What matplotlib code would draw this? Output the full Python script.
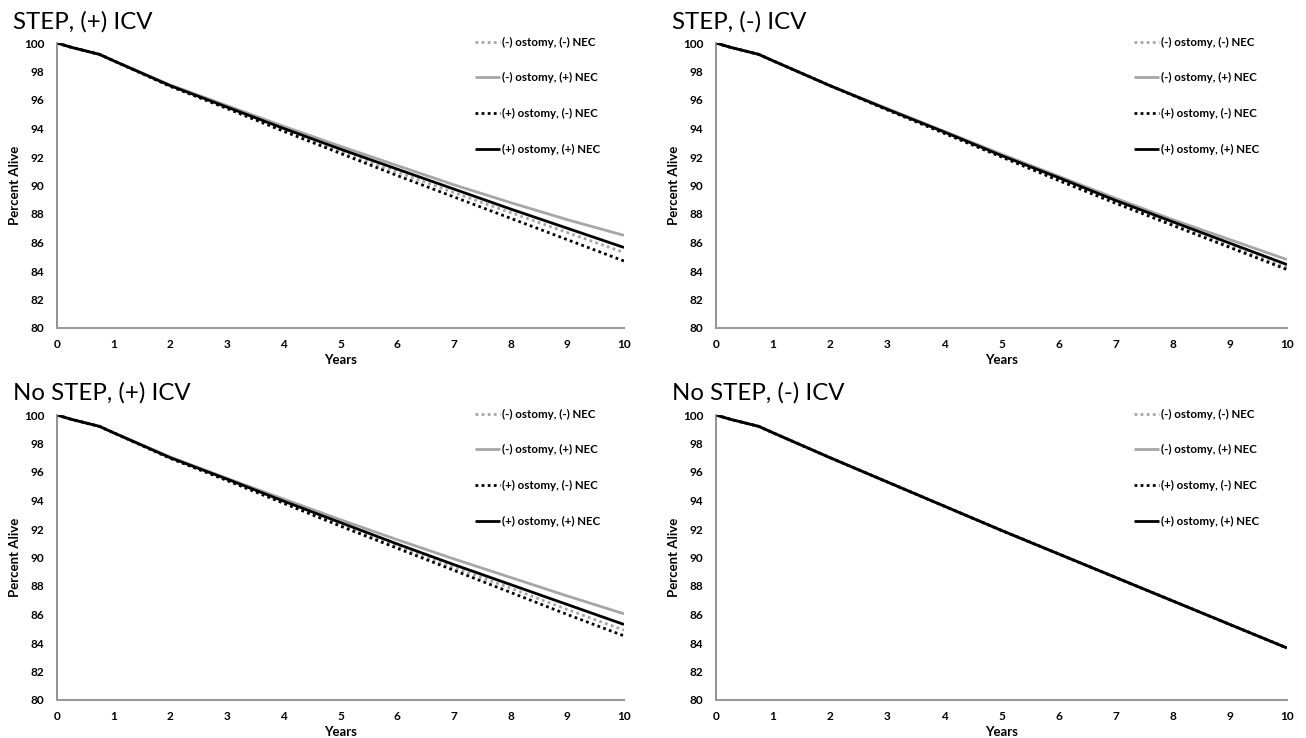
import matplotlib
matplotlib.use("Agg")
import matplotlib.pyplot as plt

plt.rcParams['font.family'] = ['Lato', 'DejaVu Sans']

years = [0, 0.25, 0.5, 0.75, 1, 2, 3, 4, 5, 6, 7, 8, 9, 10]
x_ticks = list(range(0, 11))
y_ticks = list(range(80, 101, 2))

series_labels = ["(-) ostomy, (-) NEC", "(-) ostomy, (+) NEC",
                 "(+) ostomy, (-) NEC", "(+) ostomy, (+) NEC"]

panel_titles = ["STEP, (+) ICV", "STEP, (-) ICV",
                "No STEP, (+) ICV", "No STEP, (-) ICV"]

# STEP, (+) ICV
step_pos_neg_neg = [100, 99.7, 99.45, 99.2, 98.75, 97.0, 95.45, 93.9, 92.4, 90.95, 89.5, 88.1, 86.7, 85.3]
step_pos_neg_pos = [100, 99.7, 99.45, 99.2, 98.75, 97.05, 95.6, 94.15, 92.75, 91.4, 90.05, 88.8, 87.6, 86.5]
step_pos_pos_neg = [100, 99.7, 99.45, 99.2, 98.75, 96.95, 95.4, 93.8, 92.25, 90.7, 89.2, 87.7, 86.2, 84.7]
step_pos_pos_pos = [100, 99.7, 99.45, 99.2, 98.75, 97.0, 95.5, 94.0, 92.55, 91.15, 89.75, 88.35, 87.0, 85.65]

# STEP, (-) ICV
step_neg_neg_neg = [100, 99.7, 99.45, 99.2, 98.75, 97.0, 95.35, 93.7, 92.05, 90.45, 88.85, 87.3, 85.75, 84.25]
step_neg_neg_pos = [100, 99.7, 99.45, 99.2, 98.75, 97.0, 95.4, 93.8, 92.2, 90.65, 89.1, 87.6, 86.2, 84.8]
step_neg_pos_neg = [100, 99.7, 99.45, 99.2, 98.75, 97.0, 95.3, 93.65, 92.0, 90.35, 88.75, 87.2, 85.65, 84.1]
step_neg_pos_pos = [100, 99.7, 99.45, 99.2, 98.75, 97.0, 95.35, 93.75, 92.1, 90.55, 88.95, 87.45, 85.95, 84.45]

# No STEP, (+) ICV
nostep_pos_neg_neg = [100, 99.7, 99.45, 99.2, 98.75, 97.0, 95.45, 93.85, 92.3, 90.8, 89.3, 87.85, 86.35, 84.9]
nostep_pos_neg_pos = [100, 99.7, 99.45, 99.2, 98.75, 97.05, 95.55, 94.1, 92.65, 91.25, 89.9, 88.6, 87.3, 86.05]
nostep_pos_pos_neg = [100, 99.7, 99.45, 99.2, 98.75, 96.95, 95.4, 93.8, 92.2, 90.65, 89.1, 87.55, 86.0, 84.5]
nostep_pos_pos_pos = [100, 99.7, 99.45, 99.2, 98.75, 97.0, 95.5, 93.95, 92.45, 90.95, 89.5, 88.1, 86.7, 85.3]

# No STEP, (-) ICV
nostep_neg_neg_neg = [100, 99.7, 99.45, 99.2, 98.75, 97.0, 95.3, 93.6, 91.9, 90.25, 88.6, 86.95, 85.3, 83.65]
nostep_neg_neg_pos = [100, 99.7, 99.45, 99.2, 98.75, 97.0, 95.3, 93.6, 91.9, 90.25, 88.6, 86.95, 85.3, 83.65]
nostep_neg_pos_neg = [100, 99.7, 99.45, 99.2, 98.75, 97.0, 95.3, 93.6, 91.9, 90.25, 88.6, 86.95, 85.3, 83.65]
nostep_neg_pos_pos = [100, 99.7, 99.45, 99.2, 98.75, 97.0, 95.3, 93.6, 91.9, 90.25, 88.6, 86.95, 85.3, 83.65]

panels = [
    [step_pos_neg_neg, step_pos_neg_pos, step_pos_pos_neg, step_pos_pos_pos],
    [step_neg_neg_neg, step_neg_neg_pos, step_neg_pos_neg, step_neg_pos_pos],
    [nostep_pos_neg_neg, nostep_pos_neg_pos, nostep_pos_pos_neg, nostep_pos_pos_pos],
    [nostep_neg_neg_neg, nostep_neg_neg_pos, nostep_neg_pos_neg, nostep_neg_pos_pos],
]

styles = [
    dict(color='#a6a6a6', linestyle=(0, (1, 1.2)), linewidth=2.0),
    dict(color='#a6a6a6', linestyle='-', linewidth=2.0),
    dict(color='#000000', linestyle=(0, (1, 1.2)), linewidth=2.0),
    dict(color='#000000', linestyle='-', linewidth=2.0),
]

W, H = 1306, 738
fig = plt.figure(figsize=(W / 100, H / 100), dpi=100)

# pixel boxes: (x0, x1, y_top, y_bottom)
boxes = [(57, 624, 43, 328), (716, 1287, 43, 328),
         (57, 624, 415, 700), (716, 1287, 415, 700)]
title_pos = [(13, 22), (672, 22), (13, 393), (672, 393)]
legend_x = [475, 1134, 475, 1134]

for i, (box, data) in enumerate(zip(boxes, panels)):
    x0, x1, yt, yb = box
    ax = fig.add_axes([x0 / W, 1 - yb / H, (x1 - x0) / W, (yb - yt) / H])
    for vals, st, lab in zip(data, styles, series_labels):
        ax.plot(years, vals, label=lab, solid_capstyle='butt', **st)
    ax.set_xlim(0, 10)
    ax.set_ylim(80, 100)
    ax.set_xticks(x_ticks)
    ax.set_yticks(y_ticks)
    ax.tick_params(axis='x', length=0, labelsize=8.5, pad=8)
    ax.tick_params(axis='y', length=0, labelsize=8.5, pad=9)
    for lbl in ax.get_xticklabels() + ax.get_yticklabels():
        lbl.set_fontweight('bold')
    for s in ['top', 'right']:
        ax.spines[s].set_visible(False)
    ax.spines['left'].set_color('#7f7f7f')
    ax.spines['bottom'].set_color('#9a9a9a')
    ax.spines['left'].set_linewidth(1.2)
    ax.spines['bottom'].set_linewidth(1.5)
    ax.set_xlabel('Years', fontsize=9.5, fontweight='bold', labelpad=3)
    ax.set_ylabel('Percent Alive', fontsize=9.5, fontweight='bold', labelpad=2)
    bx = (legend_x[i] - x0) / (x1 - x0)
    by = 1 + 6.5 / (yb - yt)
    ax.legend(loc='upper left', bbox_to_anchor=(bx, by),
              frameon=False, prop={'weight': 'bold', 'size': 8.3},
              handlelength=2.2, handletextpad=0.15, labelspacing=2.16,
              borderaxespad=0, borderpad=0)
    tx, ty = title_pos[i]
    fig.text(tx / W, 1 - ty / H, panel_titles[i], fontsize=17.3, ha='left', va='center')

fig.savefig('out.png', dpi=100)
